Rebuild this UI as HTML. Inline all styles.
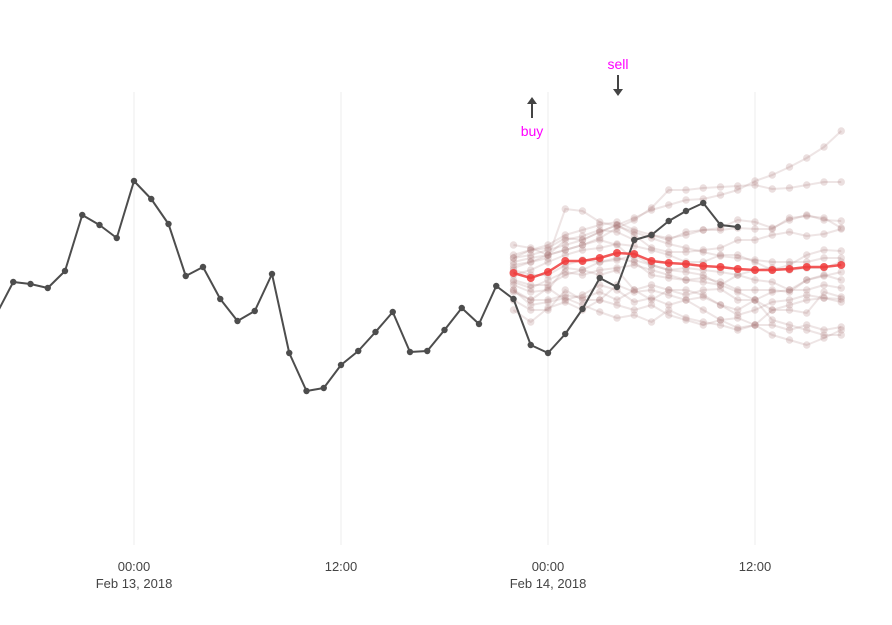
<!DOCTYPE html>
<html><head><meta charset="utf-8"><style>
body{margin:0;background:#fff;}
svg{display:block;font-family:"Liberation Sans",sans-serif;}
</style></head><body>
<svg id="chart" width="892" height="625" viewBox="0 0 892 625" xmlns="http://www.w3.org/2000/svg">
<rect width="892" height="625" fill="#fff"/>
<g id="grid"></g>
<g id="xaxis"></g>
<g id="sims"></g>
<g id="hist"></g>
<g id="median"></g>
<g>
<line x1="532" y1="118" x2="532" y2="102" stroke="#444" stroke-width="2"/>
<path d="M527,104 L532,97 L537,104 Z" fill="#444"/>
<text x="532" y="136" text-anchor="middle" font-size="14" fill="#ff00ff">buy</text>
</g>
<g>
<text x="618" y="69" text-anchor="middle" font-size="14" fill="#ff00ff">sell</text>
<line x1="618" y1="75" x2="618" y2="91" stroke="#444" stroke-width="2"/>
<path d="M613,89 L618,96 L623,89 Z" fill="#444"/>
</g>
</svg>
<script>
const tickHours=[0,12,24,36];
const tickLabels=["00:00","12:00","00:00","12:00"];
const tickDates=["Feb 13, 2018","","Feb 14, 2018",""];
const histStart=-8;
const histValues=[285,318,316,312,329,385,375,362,419,401,376,324,333,301,279,289,326,247,209,212,235,249,268,288,248,249,270,292,276,314,301,255,247,266,291,322,313,360,365,379,389,397,375,373];
const fcStart=22;
const medianValues=[327,322,328,339,339,342,347,346,339,337,336,334,333,331,330,330,331,333,333,335];
const sim1=[342,345,350,355,360,368,375,382,390,395,400,401,405,410,419,425,433,442,453,469];
const sim2=[338,342,345,350,355,362,372,380,392,410,410,412,413,414,415,411,412,415,418,418];
const sim3=[335,338,342,391,389,378,374,368,362,356,352,348,344,342,340,338,338,338,342,342];
const sim4=[345,350,355,365,370,375,378,370,365,360,368,370,372,380,378,372,380,385,380,379];
const sim5=[332,338,345,360,364,370,368,360,365,362,365,370,370,372,371,371,382,384,382,372];
const sim6=[342,350,352,362,360,368,375,365,352,348,348,350,352,360,360,365,368,364,366,371];
const sim7=[325,330,338,345,350,352,356,354,350,345,338,338,345,345,338,330,335,345,350,349];
const sim8=[320,315,315,325,330,338,342,338,325,322,320,322,318,310,310,310,308,320,325,320];
const sim9=[315,308,310,332,330,325,330,310,315,310,310,305,295,290,300,308,310,310,315,312];
const sim10=[310,300,300,305,302,308,300,310,300,310,305,310,311,300,300,290,290,287,308,303];
const sim11=[300,290,290,310,300,300,315,308,310,305,300,290,280,282,275,290,295,300,302,298];
const sim12=[290,278,292,298,290,300,295,290,295,285,280,275,280,272,275,275,270,275,270,273];
const sim13=[310,295,298,302,295,288,282,285,278,290,282,278,275,270,275,265,260,255,262,270];
const sim14=[355,352,345,350,355,360,355,340,335,330,328,325,315,308,300,280,275,270,265,265];
const sim15=[308,300,312,300,305,315,310,298,302,295,300,303,295,285,290,298,300,305,302,301];
const sim16=[318,312,320,328,325,330,332,335,330,325,320,318,315,325,320,318,310,320,324,328];
const sim17=[330,325,325,335,340,338,340,345,335,330,332,330,328,325,330,332,330,332,332,338];
const sims=[sim1,sim2,sim3,sim4,sim5,sim6,sim7,sim8,sim9,sim10,sim11,sim12,sim13,sim14,sim15,sim16,sim17];

const NS="http://www.w3.org/2000/svg";
function xScale(h){return 134+h*17.25;}
function yScale(v){return 600-v;}
function mk(tag,attrs,parent){const e=document.createElementNS(NS,tag);for(const k in attrs)e.setAttribute(k,attrs[k]);parent.appendChild(e);return e;}

const grid=document.getElementById('grid'), xaxis=document.getElementById('xaxis');
tickHours.forEach((h,i)=>{
  const l=mk('line',{x1:xScale(h),x2:xScale(h),y1:92,y2:545,stroke:'#eee','stroke-width':1},grid);
  
  
  const t=mk('text',{x:xScale(h),y:571,'text-anchor':'middle','font-size':13,fill:'#444'},xaxis);
  t.textContent=tickLabels[i];
  
  
  if(tickDates[i]){
    const d=mk('text',{x:xScale(h),y:588,'text-anchor':'middle','font-size':13,fill:'#444'},xaxis);
    d.textContent=tickDates[i];
    
    
  }
});

function series(vals,start,parent,stroke,fill,r,w,name){
  const pts=vals.map((v,i)=>[xScale(start+i),yScale(v)]);
  const p=mk('polyline',{points:pts.map(p=>p.join(',')).join(' '),fill:'none',stroke:stroke,'stroke-width':w,'stroke-linejoin':'round'},parent);
  
  
  pts.forEach(pt=>{
    const c=mk('circle',{cx:pt[0],cy:pt[1],r:r,fill:fill},parent);
    
    
  });
}
const simG=document.getElementById('sims');
sims.forEach(s=>series(s,fcStart,simG,'rgba(170,125,125,0.2)','rgba(165,110,110,0.22)',3.7,2,'simulation'));
series(histValues,histStart,document.getElementById('hist'),'#4d4d4d','#4d4d4d',3.2,2,'history');
series(medianValues,fcStart,document.getElementById('median'),'rgba(240,60,60,0.85)','rgba(240,60,60,0.85)',4,2.5,'median');
</script>
</body></html>
